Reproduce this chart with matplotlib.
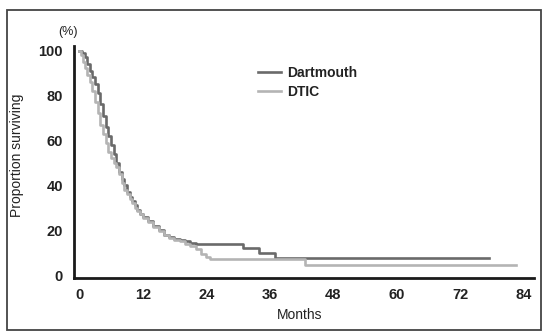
import matplotlib
matplotlib.use("Agg")
import matplotlib.pyplot as plt
from matplotlib.patches import Rectangle

plt.rcParams['font.family'] = ['Liberation Sans', 'DejaVu Sans']

# Kaplan-Meier steps (months, % surviving)
dart_t = [0, 0.5, 1.0, 1.5, 2.0, 2.5, 3.0, 3.5, 4.0, 4.5, 5.0, 5.5, 6.0, 6.5, 7.0, 7.5,
          8.0, 8.5, 9.0, 9.5, 10, 10.5, 11, 11.5, 12, 13, 14, 15, 16, 17, 18, 19, 20,
          21, 22, 23, 31, 34, 37, 77.5]
dart_s = [100, 99, 97, 94, 91, 88, 85, 81, 76, 71, 66, 62, 58, 54, 50, 46,
          43, 40, 37, 35, 33, 31, 29, 27, 26, 24, 22, 20, 18, 17, 16, 15.5, 15,
          14.5, 14, 13.8, 12.1, 9.8, 7.8, 7.8]

dtic_t = [0, 0.3, 0.7, 1.0, 1.5, 2.0, 2.5, 3.0, 3.5, 4.0, 4.5, 5.0, 5.5, 6.0, 6.5, 7.0,
          7.5, 8.0, 8.5, 9.0, 9.5, 10, 10.5, 11, 11.5, 12, 13, 14, 15, 16, 17, 18, 19,
          20, 21, 22, 23, 24, 24.7, 42.6, 82.5]
dtic_s = [100, 98, 95, 92, 89, 86, 82, 77, 72, 67, 63, 59, 55, 52, 50, 48,
          45, 41, 38, 36, 34, 32, 30, 28.5, 27, 25.5, 23.5, 21.5, 19.5, 18, 16.5, 15.5, 15,
          14, 13, 11.5, 9.5, 8, 7, 4.5, 4.5]

xticks = [0, 12, 24, 36, 48, 60, 72, 84]
yticks = [0, 20, 40, 60, 80, 100]

fig = plt.figure(figsize=(5.44, 3.31), dpi=100)
ax = fig.add_axes([0.136, 0.160, 0.846, 0.701])

ax.step(dart_t, dart_s, where='post', color='#6a6a6a', lw=1.9, label='Dartmouth')
ax.step(dtic_t, dtic_s, where='post', color='#b4b4b4', lw=1.9, label='DTIC')

ax.set_xlim(-1, 86)
ax.set_ylim(-1.3, 102)
ax.set_xticks(xticks)
ax.set_yticks(yticks)
ax.tick_params(length=0, labelsize=10.5, colors='#222222')
ax.tick_params(axis='y', pad=8)
ax.tick_params(axis='x', pad=7)
for lab in ax.get_xticklabels() + ax.get_yticklabels():
    lab.set_fontweight('bold')

for s in ['top', 'right']:
    ax.spines[s].set_visible(False)
for s in ['left', 'bottom']:
    ax.spines[s].set_linewidth(2)
    ax.spines[s].set_color('#1a1a1a')

ax.set_xlabel('Months', fontsize=10, color='#222222')
ax.xaxis.set_label_coords(0.49, -0.13)
ax.set_ylabel('Proportion surviving', fontsize=10, color='#222222')
ax.yaxis.set_label_coords(-0.108, 0.53)
fig.text(68 / 544, 1 - 32 / 331, '(%)', fontsize=9, ha='center', va='center', color='#222222')

leg = ax.legend(loc='upper left', bbox_to_anchor=(0.474, 0.80), bbox_transform=fig.transFigure,
                frameon=False, handlelength=1.7, handletextpad=0.4, labelspacing=0.35,
                borderpad=0, borderaxespad=0)
for t in leg.get_texts():
    t.set_fontweight('bold')
    t.set_fontsize(10)
    t.set_color('#222222')

# frame around the whole figure
fig.patches.append(Rectangle((7 / 544, 1 / 331), 534 / 544, 320 / 331, transform=fig.transFigure,
                             fill=False, lw=1.3, edgecolor='#444444'))

fig.savefig('out.png', dpi=100)
